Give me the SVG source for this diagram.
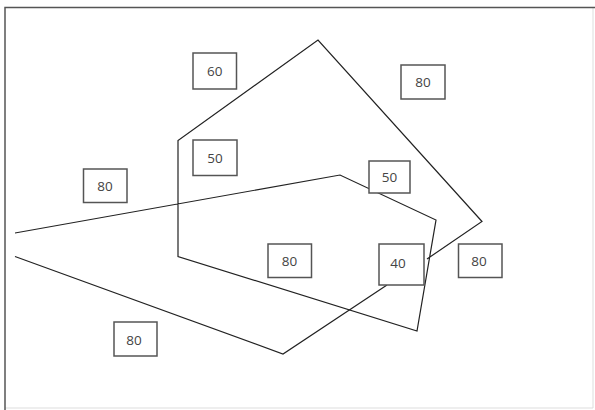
<svg xmlns="http://www.w3.org/2000/svg" width="595" height="410" viewBox="0 0 595 410">
<style>
.frame{fill:none;stroke:#555;stroke-width:1.5}
.faint{fill:none;stroke:#ddd;stroke-width:1}
.line{fill:none;stroke:#222;stroke-width:1.2;stroke-linejoin:miter}
.box{fill:#fff;stroke:#555;stroke-width:1.5}
.lbl{font-family:"Open Sans","Liberation Sans",sans-serif;font-size:13.5px;fill:#444;text-anchor:middle;dominant-baseline:central}
</style>
<rect x="0" y="0" width="595" height="410" fill="#fff"/>
<g id="frame">
<line class="faint" x1="593" y1="7" x2="593" y2="408"/>
<line class="faint" x1="5" y1="408" x2="593" y2="408"/>
<path class="frame" d="M5,410 V7.5 H595"/>
</g>
<g id="connectors">
<polyline class="line" points="15,233 340,175 436,220 417,331 178,256.5 178,140.5 318,40 482,221.5 427,259"/>
<polyline class="line" points="15,256.5 283,354 387,285"/>
</g>
<g id="n60"><rect class="box" x="193" y="53" width="43.5" height="36"/><text class="lbl" x="214.7" y="71">60</text></g>
<g id="n80a"><rect class="box" x="401" y="65" width="44" height="34"/><text class="lbl" x="423" y="82">80</text></g>
<g id="n50a"><rect class="box" x="193" y="140" width="44" height="35.5"/><text class="lbl" x="215" y="158">50</text></g>
<g id="n80b"><rect class="box" x="83.5" y="169" width="43.5" height="33.5"/><text class="lbl" x="105" y="186">80</text></g>
<g id="n50b"><rect class="box" x="369" y="161" width="41" height="32"/><text class="lbl" x="389.5" y="177">50</text></g>
<g id="n80c"><rect class="box" x="268" y="244" width="43.5" height="33.5"/><text class="lbl" x="289.5" y="261">80</text></g>
<g id="n40"><rect class="box" x="379" y="244" width="45" height="41"/><text class="lbl" x="398" y="263">40</text></g>
<g id="n80d"><rect class="box" x="458.5" y="244" width="43.5" height="33.5"/><text class="lbl" x="479" y="261">80</text></g>
<g id="n80e"><rect class="box" x="114" y="322" width="43" height="34"/><text class="lbl" x="134" y="340">80</text></g>
</svg>
